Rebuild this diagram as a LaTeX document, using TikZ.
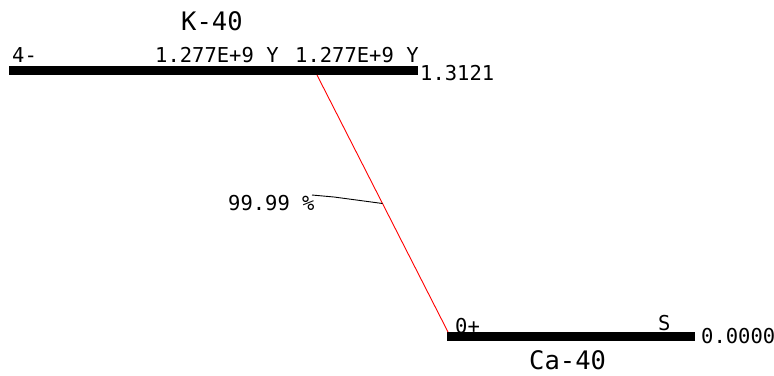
\documentclass[tikz,border=0pt]{standalone}
\usepackage{fontspec}
\setmonofont{DejaVu Sans Mono}
\usetikzlibrary{calc}
\begin{document}
\begin{tikzpicture}[x=1pt,y=-1pt,
  lbl/.style={inner sep=0pt,anchor=base west,font=\ttfamily\fontsize{20.5}{24}\selectfont},
  big/.style={inner sep=0pt,anchor=base west,font=\ttfamily\fontsize{25.5}{30}\selectfont},
  levelbar/.style={fill=black,draw=none,inner sep=0pt,minimum height=9pt,anchor=north west},
  trans/.style={red,line width=0.9pt},
  leader/.style={black,line width=0.9pt}]
\useasboundingbox (0,0) rectangle (774,375);
% labels
\node[big] (ktitle) at (181,30) {K-40};
\node[lbl] (kspin) at (12,62) {4-};
\node[lbl] (khalfa) at (155,62) {1.277E+9 Y};
\node[lbl] (khalfb) at (295,62) {1.277E+9 Y};
\node[lbl] (kenergy) at (420,80) {1.3121};
\node[lbl] (caspin) at (455,333) {0+};
\node[lbl] (castable) at (658,330) {S};
\node[lbl] (caenergy) at (701,343) {0.0000};
\node[big] (catitle) at (529,369) {Ca-40};
\node[lbl] (branch) at (228,210) {99.99 \%};
% level bars
\node[levelbar,minimum width=409pt] (kbar) at (9,66) {};
\node[levelbar,minimum width=248pt] (cabar) at (447,332) {};
% transition
\coordinate (tstart) at (317,75);
\coordinate (tend) at (448,332);
\draw[trans] (tstart) -- (tend);
\coordinate (tmid) at ($(tstart)!0.5!(tend)$);
\coordinate (lstart) at (312,195);
\draw[leader] (lstart) -- (334,197) -- (tmid);
\end{tikzpicture}
\end{document}
